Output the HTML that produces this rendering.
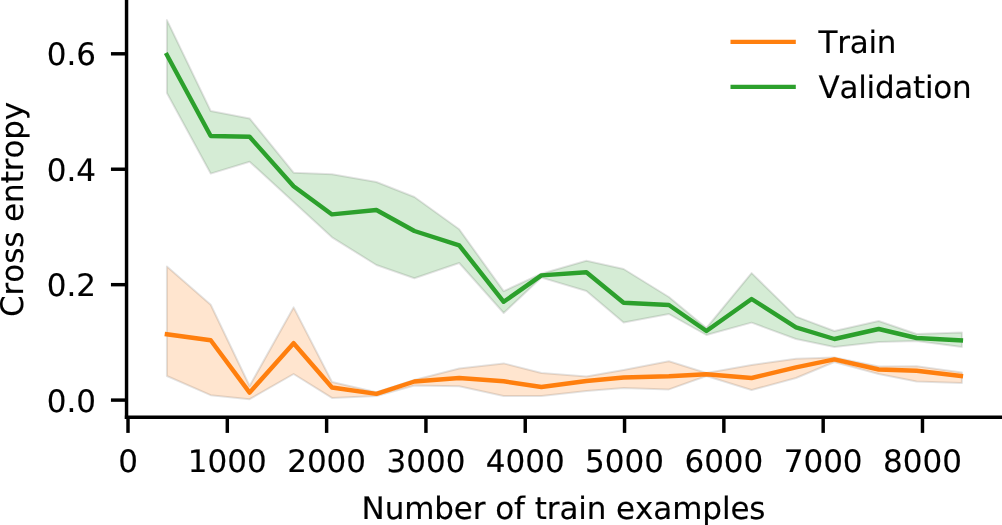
<!DOCTYPE html>
<html><head><meta charset="utf-8"><title>Learning curve</title>
<style>html,body{margin:0;padding:0;background:#fff;width:1002px;height:525px;overflow:hidden}</style>
</head><body>
<svg width="1002" height="525" viewBox="0 0 1002 525" style="display:block;font-family:'DejaVu Sans','Liberation Sans',sans-serif;font-size:31px;font-kerning:none;font-feature-settings:'kern' 0" text-rendering="geometricPrecision">
<rect width="1002" height="525" fill="#fff"/>
<style>text{fill:#000;stroke:#000;stroke-width:0.15px}</style>
<polygon points="166.9,20.1 210.7,111.0 249.6,118.4 293.6,172.7 332.0,174.2 376.4,182.0 414.4,197.0 459.2,229.3 503.7,291.2 541.4,273.7 586.4,260.7 623.6,269.0 668.9,297.0 706.4,328.0 751.6,273.1 796.0,316.6 834.4,331.0 878.7,321.0 916.6,334.0 961.9,332.4 961.9,347.0 916.6,341.0 878.7,342.0 834.4,347.0 796.0,339.0 751.6,322.6 706.4,335.0 668.9,314.0 623.6,322.5 586.4,291.0 541.4,277.6 503.7,313.0 459.2,263.0 414.4,278.2 376.4,265.0 332.0,237.3 293.6,202.0 249.6,161.7 210.7,173.6 166.9,93.0" fill="#d5ecd5" stroke="rgba(0,0,0,0.11)" stroke-width="2" stroke-linejoin="round"/>
<polygon points="166.9,266.6 210.7,304.8 249.6,386.0 293.6,307.4 332.0,382.0 376.4,392.3 414.4,380.0 459.2,368.5 503.7,363.4 541.4,373.0 586.4,376.5 623.6,370.0 668.9,361.2 706.4,373.0 751.6,365.0 796.0,358.8 834.4,357.6 878.7,366.5 916.6,366.2 961.9,372.4 961.9,383.0 916.6,381.4 878.7,374.0 834.4,362.0 796.0,378.0 751.6,390.0 706.4,376.0 668.9,389.4 623.6,388.0 586.4,391.0 541.4,396.0 503.7,396.0 459.2,386.3 414.4,385.5 376.4,396.0 332.0,397.9 293.6,374.0 249.6,399.2 210.7,395.2 166.9,376.0" fill="#ffe5cf" stroke="rgba(0,0,0,0.11)" stroke-width="2" stroke-linejoin="round"/>
<polyline points="166.9,334.3 210.7,340.3 249.6,392.6 293.6,343.2 332.0,387.5 376.4,393.9 414.4,381.5 459.2,378.0 503.7,381.3 541.4,387.0 586.4,381.0 623.6,377.5 668.9,376.3 706.4,374.3 751.6,378.0 796.0,367.3 834.4,359.4 878.7,369.5 916.6,370.8 960.9,376.0" fill="none" stroke="#ff7f0e" stroke-width="4.4" stroke-linejoin="round" stroke-linecap="square"/>
<polyline points="166.9,55.0 210.7,136.0 249.6,136.8 293.6,186.2 332.0,214.4 376.4,210.0 414.4,231.0 459.2,245.3 503.7,301.8 541.4,275.4 586.4,272.2 623.6,302.8 668.9,305.0 706.4,331.0 751.6,299.0 796.0,327.4 834.4,339.0 878.7,329.0 916.6,338.0 960.9,340.4" fill="none" stroke="#2ca02c" stroke-width="4.4" stroke-linejoin="round" stroke-linecap="square"/>
<line x1="126.55" y1="0" x2="126.55" y2="419.02500000000003" stroke="#000" stroke-width="3.45"/>
<line x1="124.825" y1="417.3" x2="1002" y2="417.3" stroke="#000" stroke-width="3.45"/>
<line x1="110.95" y1="400.1" x2="126.55" y2="400.1" stroke="#000" stroke-width="3.45"/>
<text x="96" y="411.7" text-anchor="end">0.0</text>
<line x1="110.95" y1="284.67" x2="126.55" y2="284.67" stroke="#000" stroke-width="3.45"/>
<text x="96" y="296.3" text-anchor="end">0.2</text>
<line x1="110.95" y1="169.23" x2="126.55" y2="169.23" stroke="#000" stroke-width="3.45"/>
<text x="96" y="180.8" text-anchor="end">0.4</text>
<line x1="110.95" y1="53.8" x2="126.55" y2="53.8" stroke="#000" stroke-width="3.45"/>
<text x="96" y="65.4" text-anchor="end">0.6</text>
<line x1="128.00" y1="417.3" x2="128.00" y2="432.90000000000003" stroke="#000" stroke-width="3.45"/>
<text x="128.00" y="471.5" text-anchor="middle">0</text>
<line x1="227.31" y1="417.3" x2="227.31" y2="432.90000000000003" stroke="#000" stroke-width="3.45"/>
<text x="227.31" y="471.5" text-anchor="middle">1000</text>
<line x1="326.62" y1="417.3" x2="326.62" y2="432.90000000000003" stroke="#000" stroke-width="3.45"/>
<text x="326.62" y="471.5" text-anchor="middle">2000</text>
<line x1="425.93" y1="417.3" x2="425.93" y2="432.90000000000003" stroke="#000" stroke-width="3.45"/>
<text x="425.93" y="471.5" text-anchor="middle">3000</text>
<line x1="525.24" y1="417.3" x2="525.24" y2="432.90000000000003" stroke="#000" stroke-width="3.45"/>
<text x="525.24" y="471.5" text-anchor="middle">4000</text>
<line x1="624.55" y1="417.3" x2="624.55" y2="432.90000000000003" stroke="#000" stroke-width="3.45"/>
<text x="624.55" y="471.5" text-anchor="middle">5000</text>
<line x1="723.86" y1="417.3" x2="723.86" y2="432.90000000000003" stroke="#000" stroke-width="3.45"/>
<text x="723.86" y="471.5" text-anchor="middle">6000</text>
<line x1="823.17" y1="417.3" x2="823.17" y2="432.90000000000003" stroke="#000" stroke-width="3.45"/>
<text x="823.17" y="471.5" text-anchor="middle">7000</text>
<line x1="922.48" y1="417.3" x2="922.48" y2="432.90000000000003" stroke="#000" stroke-width="3.45"/>
<text x="922.48" y="471.5" text-anchor="middle">8000</text>
<line x1="730.5" y1="41.9" x2="795.8" y2="41.9" stroke="#ff7f0e" stroke-width="4.4"/>
<line x1="730.5" y1="86.9" x2="795.8" y2="86.9" stroke="#2ca02c" stroke-width="4.4"/>
<text x="818.6" y="52.7" letter-spacing="-0.28">Train</text>
<text x="818.6" y="97.8" letter-spacing="-0.28">Validation</text>
<text x="563.5" y="518.6" text-anchor="middle" letter-spacing="-0.1">Number of train examples</text>
<text transform="translate(23,209.4) rotate(-90)" text-anchor="middle" letter-spacing="-0.08">Cross entropy</text>
</svg>
</body></html>
